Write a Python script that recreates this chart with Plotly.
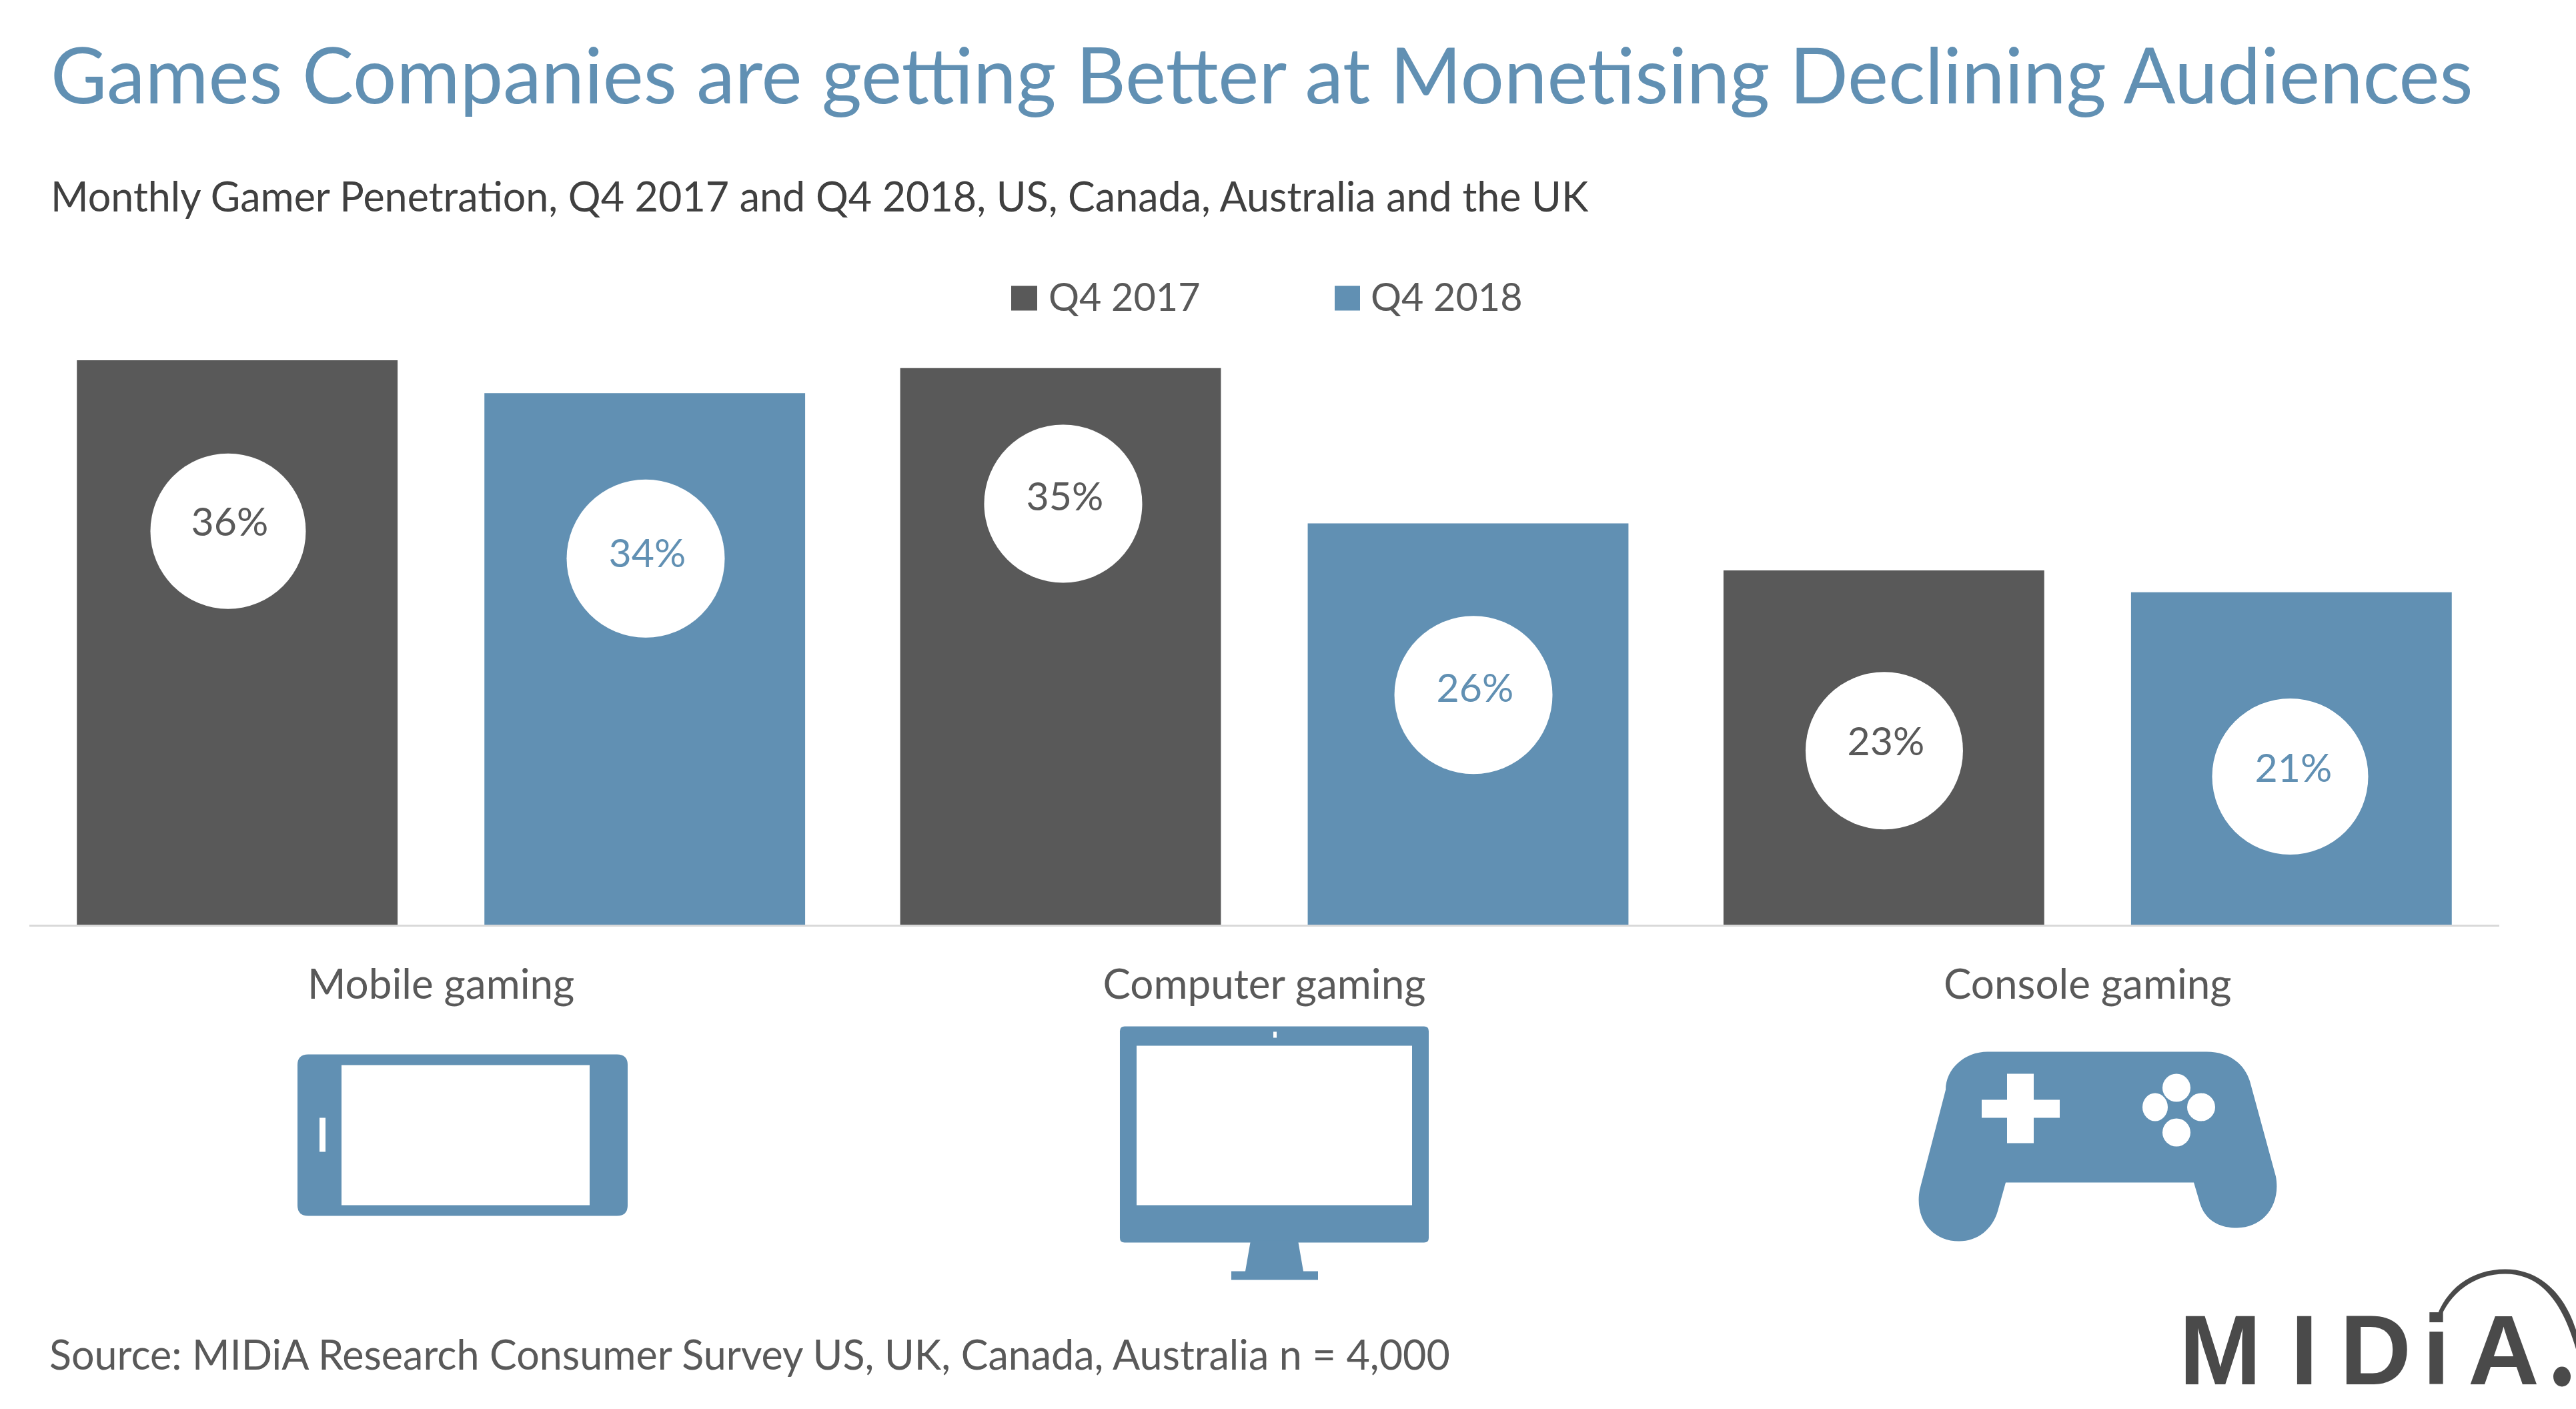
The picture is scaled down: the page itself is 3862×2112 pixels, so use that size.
import plotly.graph_objects as go

# ---- data ----
categories = ["Mobile gaming", "Computer gaming", "Console gaming"]
series_names = ["Q4 2017", "Q4 2018"]
q4_2017 = [36.0, 35.5, 22.6]
q4_2018 = [33.9, 25.6, 21.2]
labels_2017 = ["36%", "35%", "23%"]
labels_2018 = ["34%", "26%", "21%"]

title_text = "Games Companies are getting Better at Monetising Declining Audiences"
subtitle_text = "Monthly Gamer Penetration, Q4 2017 and Q4 2018, US, Canada, Australia and the UK"
source_text = "Source: MIDiA Research Consumer Survey US, UK, Canada, Australia n = 4,000"

# ---- style / placement ----
W, H = 3862, 2112
L, R, T, B = 44, 3747, 446, 1386
YOFF = 2.5
DARK, BLUE = "#595959", "#6190B3"
FONT = "Lato"

badge_x_2017 = [-0.2586, 0.7557, 1.753]
badge_y_2017 = [25.1, 26.85, 11.1]
badge_size_2017 = [233, 237, 236]
badge_x_2018 = [0.2486, 1.254, 2.246]
badge_y_2018 = [23.35, 14.65, 9.45]
badge_size_2018 = [237, 237, 234]
text_x_2017 = [-0.2566, 0.7577, 1.755]
text_y_2017 = [25.45, 27.05, 11.45]
text_x_2018 = [0.2506, 1.256, 2.250]
text_y_2018 = [23.45, 14.85, 9.75]


def X(p):
    return (p - L) / (R - L)


def Y(p):
    return (B - (p - YOFF)) / (B - T)


def path(cmds):
    s = ""
    for c in cmds:
        s += c if isinstance(c, str) else f"{X(c[0]):.5f},{Y(c[1]):.5f} "
    return s


def pshape(cmds, color=BLUE):
    return dict(type="path", xref="paper", yref="paper", path=path(cmds),
                fillcolor=color, line=dict(width=0), layer="above")


def rect(x0, y0, x1, y1, color):
    return dict(type="rect", xref="paper", yref="paper", x0=X(x0), x1=X(x1), y0=Y(y0), y1=Y(y1),
                fillcolor=color, line=dict(width=0), layer="above")


def ell(cx, cy, rx, ry, color="white"):
    return dict(type="circle", xref="paper", yref="paper", x0=X(cx - rx), x1=X(cx + rx),
                y0=Y(cy - ry), y1=Y(cy + ry), fillcolor=color, line=dict(width=0), layer="above")


def rrect(x0, y0, x1, y1, r, color=BLUE):
    return pshape(["M", (x0 + r, y0), "L", (x1 - r, y0), "Q", (x1, y0), (x1, y0 + r),
                   "L", (x1, y1 - r), "Q", (x1, y1), (x1 - r, y1),
                   "L", (x0 + r, y1), "Q", (x0, y1), (x0, y1 - r),
                   "L", (x0, y0 + r), "Q", (x0, y0), (x0 + r, y0), "Z"], color)


def text(x, y, s, size, color, anchor="left", family=FONT, weight=None):
    f = dict(family=family, size=size, color=color)
    if weight:
        f["weight"] = weight
    return dict(xref="paper", yref="paper", x=X(x), y=Y(y), text=s, showarrow=False,
                xanchor=anchor, yanchor="middle", font=f, borderpad=0, borderwidth=0)


fig = go.Figure()
fig.add_bar(name=series_names[0], x=categories, y=q4_2017, marker=dict(color=DARK, line=dict(width=0)))
fig.add_bar(name=series_names[1], x=categories, y=q4_2018, marker=dict(color=BLUE, line=dict(width=0)))

for bx, by, bs, tx, ty, lab, col in [
    (badge_x_2017, badge_y_2017, badge_size_2017, text_x_2017, text_y_2017, labels_2017, DARK),
    (badge_x_2018, badge_y_2018, badge_size_2018, text_x_2018, text_y_2018, labels_2018, BLUE),
]:
    fig.add_scatter(x=bx, y=by, xaxis="x2", yaxis="y", mode="markers", showlegend=False,
                    marker=dict(color="white", size=bs, line=dict(width=0), opacity=1))
    fig.add_scatter(x=tx, y=ty, xaxis="x2", yaxis="y", mode="text", text=lab, showlegend=False,
                    textposition="middle center", textfont=dict(family=FONT, size=59, color=col))

LOGO = "#4A4A4A"
shapes = [
    # legend swatches
    rect(1516, 431, 1555, 468, DARK),
    rect(2001, 431, 2039, 468, BLUE),
    # tablet
    rrect(446, 1583, 941, 1825, 16),
    rect(512, 1599, 884, 1809, "white"),
    rect(479, 1678, 488, 1729, "white"),
    # monitor
    rrect(1679, 1541, 2142, 1865, 7),
    rect(1704, 1570, 2117, 1809, "white"),
    rect(1909, 1549, 1914, 1558, "white"),
    pshape(["M", (1875, 1862), "L", (1946, 1862), "L", (1954, 1908), "L", (1976, 1908), "L", (1976, 1921),
            "L", (1846, 1921), "L", (1846, 1908), "L", (1867, 1908), "Z"]),
    # controller
    pshape(["M", (2980, 1579), "L", (3308, 1579),
            "C", (3345, 1579), (3366, 1600), (3373, 1623),
            "L", (3412, 1766),
            "C", (3420, 1810), (3392, 1843), (3354, 1843),
            "C", (3325, 1843), (3304, 1830), (3297, 1802),
            "L", (3289, 1775), "L", (3007, 1775), "L", (2995, 1818),
            "C", (2987, 1845), (2965, 1863), (2937, 1863),
            "C", (2897, 1863), (2870, 1830), (2878, 1786),
            "L", (2917, 1636),
            "C", (2917, 1605), (2945, 1579), (2980, 1579), "Z"]),
    rect(3009, 1612, 3049, 1716, "white"),
    rect(2971, 1651, 3088, 1678, "white"),
    ell(3263, 1633, 21, 21),
    ell(3231, 1662, 19, 21),
    ell(3300, 1662, 21, 21),
    ell(3263, 1700, 21, 21),
    # logo arc and dot
    pshape(["M", (3651, 1983), "C", (3665, 1935), (3705, 1905), (3756, 1905),
            "C", (3810, 1905), (3850, 1945), (3866, 2010),
            "L", (3866, 2040),
            "C", (3845, 1955), (3810, 1912), (3756, 1912),
            "C", (3710, 1912), (3672, 1940), (3657, 1983), "Z"], LOGO),
    ell(3841, 2066, 13, 15, LOGO),
]

annotations = [
    text(1572, 446, series_names[0], 57.5, DARK),
    text(2055, 446, series_names[1], 57.5, DARK),
    text(76, 296, subtitle_text, 61, "#404040"),
    text(74, 2032, source_text, 61, DARK),
]
for cx, letter in zip([3328, 3454.5, 3561, 3652, 3753], ["M", "I", "D", "i", "A"]):
    annotations.append(text(cx, 2026, letter, 148, LOGO, "center", "Liberation Sans", 700))

fig.update_layout(
    width=W, height=H,
    margin=dict(l=L, r=W - R, t=T, b=H - B, autoexpand=False),
    paper_bgcolor="white", plot_bgcolor="white",
    showlegend=False, barmode="group", bargap=0.01, bargroupgap=0.213,
    title=dict(text=title_text, x=76 / W, xanchor="left", xref="container",
               y=1 - 115 / H, yanchor="middle", font=dict(family=FONT, size=115.5, color=BLUE)),
    font=dict(family=FONT, color=DARK),
    xaxis=dict(domain=[0, 1], showline=True, linecolor="#D9D9D9", linewidth=3, ticks="", showgrid=False,
               zeroline=False, tickfont=dict(family=FONT, size=62, color=DARK), ticklabelstandoff=34),
    xaxis2=dict(domain=[0, 1], overlaying="x", range=[-0.5, 2.5], visible=False, anchor="y"),
    yaxis=dict(range=[0, 40], visible=False, showgrid=False, zeroline=False),
    shapes=shapes, annotations=annotations,
)

fig.write_html("out.html", config=dict(displayModeBar=False),
               post_script="document.body.style.margin='0';document.body.style.overflow='hidden';")
